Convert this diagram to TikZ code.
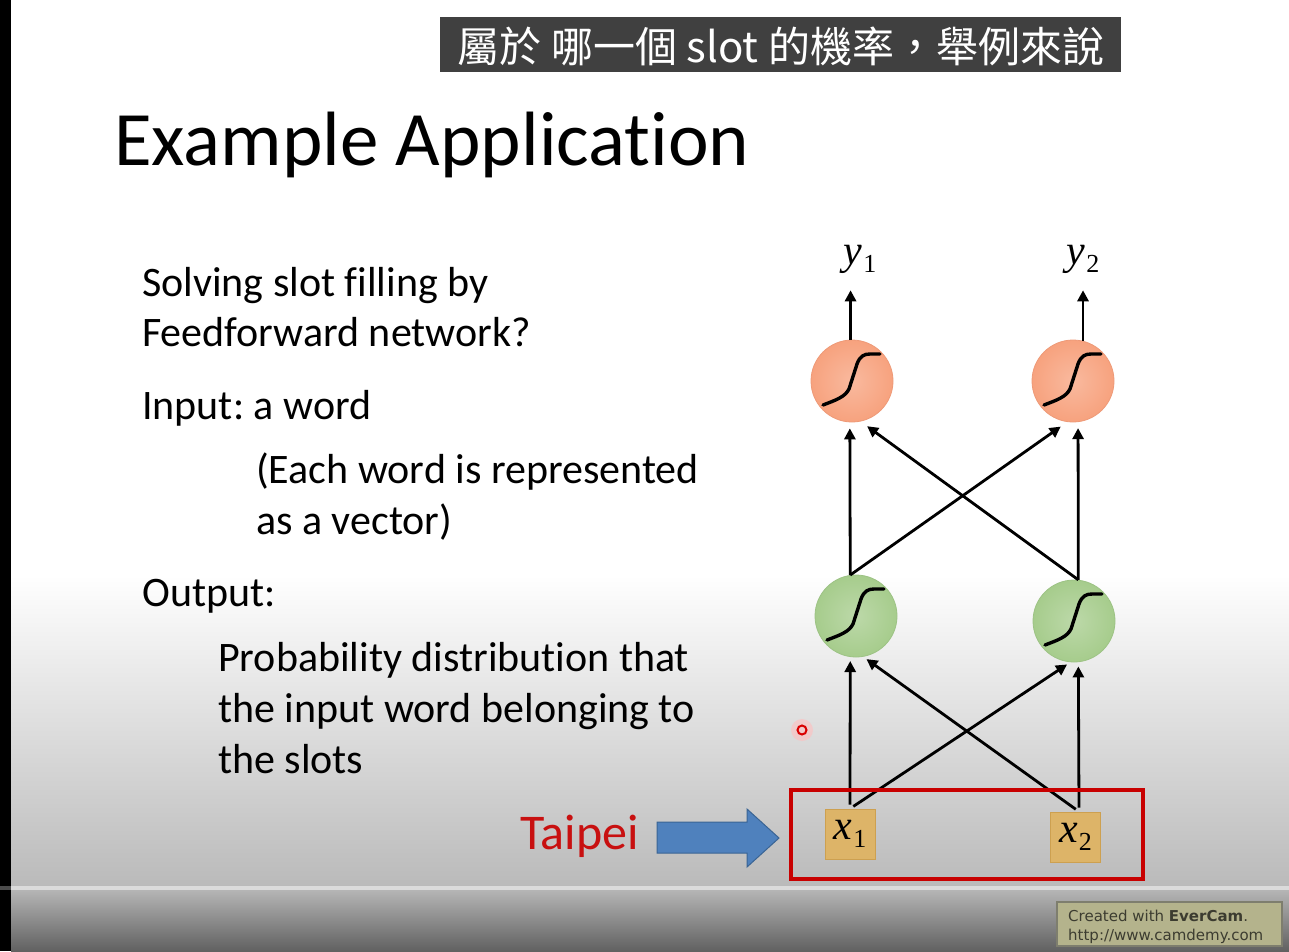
\documentclass[tikz,border=0pt]{standalone}
\usepackage{fontspec}
\setmainfont{Carlito}[Ligatures={NoCommon,NoRare}]
\newfontfamily\cjk{Noto Sans CJK TC}
\newfontfamily\tms{Liberation Serif}
\newfontfamily\dejav{DejaVu Sans}
\usetikzlibrary{arrows.meta,calc}
\definecolor{capbg}{HTML}{404040}
\definecolor{orangefill}{HTML}{F7A27E}
\definecolor{orangeedge}{HTML}{EE9A78}
\definecolor{greenfill}{HTML}{A6CC8C}
\definecolor{greenedge}{HTML}{9DC385}
\definecolor{tanfill}{HTML}{DDB468}
\definecolor{tanedge}{HTML}{CDA050}
\definecolor{slidered}{HTML}{C81010}
\definecolor{boxred}{HTML}{C80000}
\definecolor{arrowblue}{HTML}{4F81BD}
\definecolor{arrowblueedge}{HTML}{3A6494}
\definecolor{wmfill}{HTML}{B4B38C}
\definecolor{wmedge}{HTML}{7E7E6E}
\definecolor{wmtext}{HTML}{3C3C30}
\newcommand\vlab[2]{{\tms\itshape #1}\kern1pt\raisebox{-8pt}{\fontsize{26}{26}\selectfont\tms #2}}
\newcommand\sigcurve[1]{%
  \begin{scope}[shift={(#1.center)}]
    \draw[sig] (-29,24) .. controls (-16,19) and (-7,16) .. (-3,8)
      -- (5,-17) .. controls (8,-25) and (12,-27) .. (18,-27) -- (28,-27);
  \end{scope}}
\frenchspacing
\begin{document}
\begin{tikzpicture}[x=1pt,y=-1pt,
  txt/.style={anchor=base west, inner sep=0pt, font=\fontsize{42}{48}\selectfont},
  neuron/.style={circle, minimum size=82pt, inner sep=0pt, line width=0.8pt},
  outn/.style={neuron, draw=orangeedge, inner color=orangefill!75!white, outer color=orangefill},
  hidn/.style={neuron, draw=greenedge, inner color=greenfill!75!white, outer color=greenfill},
  inp/.style={draw=tanedge, fill=tanfill, line width=0.8pt, minimum width=50pt, minimum height=50pt, inner sep=0pt, font=\fontsize{42}{42}\selectfont},
  vl/.style={inner sep=0pt, anchor=base, font=\fontsize{42}{42}\selectfont},
  sig/.style={line width=3.4pt, line cap=round, line join=round},
  arr/.style={line width=2.8pt, -{Triangle[length=11pt,width=11pt]}},
]
\useasboundingbox (0,0) rectangle (1289,951);
% background
\fill[white] (0,0) rectangle (1289,951);
\shade[top color=white, bottom color=black!27] (11,575) rectangle (1289,886);
\fill[black!14] (0,886) rectangle (1289,890);
\shade[top color=black!29, bottom color=black!62] (11,890) rectangle (1289,951);
\fill[black] (0,0) rectangle (11,886);
\fill[black] (0,890) rectangle (11,951);
\fill[black!70] (0,886) rectangle (11,890);
% caption
\fill[capbg] (440,17) rectangle (1121,72);
\node[inner sep=0pt, text=white, font=\cjk\fontsize{42}{42}\selectfont] (cap) at (781,46) {屬於 哪一個 slot 的機率，舉例來說};
% title
\node[anchor=base west, inner sep=0pt, font=\fontsize{77}{90}\selectfont] (title) at (114,165) {Example Application};
% body text
\node[txt] (t1) at (142,296) {Solving slot filling by};
\node[txt] (t2) at (142,346) {Feedforward network?};
\node[txt] (t3) at (142,419) {Input: a word};
\node[txt] (t4) at (256,483) {(Each word is represented};
\node[txt] (t5) at (256,534) {as a vector)};
\node[txt] (t6) at (142,606) {Output:};
\node[txt] (t7) at (218,671) {Probability distribution that};
\node[txt] (t8) at (218,722) {the input word belonging to};
\node[txt] (t9) at (218,773) {the slots};
% network
\node[outn] (o1) at (852,381) {};
\node[outn] (o2) at (1073,381) {};
\node[hidn] (h1) at (856,616) {};
\node[hidn] (h2) at (1074,621) {};
\sigcurve{o1}
\sigcurve{o2}
\sigcurve{h1}
\sigcurve{h2}
\node[inp] (x1) at (850,834) {\vlab{x}{1}};
\node[inp] (x2) at (1075.5,837) {\vlab{x}{2}};
\node[vl] (y1) at (860,264) {\vlab{y}{1}};
\node[vl] (y2) at (1083,264) {\vlab{y}{2}};
% output arrows
\draw[arr, shorten >=17pt] (o1.92) -- (o1.92 |- y1.south);
\draw[arr, shorten >=17pt] (o2.76) -- (o2.76 |- y2.south);
% hidden -> output
\draw[arr, shorten >=6pt] (h1.98) -- (o1.267);
\draw[arr, shorten >=6pt] (h2.84) -- (o2.277);
\draw[arr, shorten >=8pt] (h1.98) -- (o2.262);
\draw[arr, shorten >=8pt] (h2.84) -- (o1.282);
% input -> hidden
\draw[arr, shorten <=4pt, shorten >=4pt] (x1.north) -- (h1.262);
\draw[arr, shorten <=4pt, shorten >=4pt] ([xshift=3.5pt]x2.north) -- (h2.84 |- h2.south);
\draw[arr, shorten <=4pt, shorten >=4pt] (x1.north) -- (h2.265);
\draw[arr, shorten <=4pt, shorten >=4pt] ([xshift=3.5pt]x2.north) -- (h1.280);
% input frame
\draw[boxred, line width=3.5pt] (791,790) rectangle (1143,879);
% Taipei and blue arrow
\node[anchor=base west, inner sep=0pt, text=slidered, font=\fontsize{50}{54}\selectfont] (taipei) at (520,849) {Taipei};
\filldraw[fill=arrowblue, draw=arrowblueedge, line width=1pt, line join=miter]
  (657,822) -- (747,822) -- (747,809) -- (779,838) -- (747,867) -- (747,853) -- (657,853) -- cycle;
% cursor marker
\fill[red!25, opacity=0.6] (802,730) circle (11);
\draw[red!85!black, line width=2pt] (802,730) circle (4.5);
% watermark
\filldraw[fill=wmfill, draw=wmedge, line width=1.2pt] (1057,902) rectangle (1282,946);
\node[anchor=base west, inner sep=0pt, text=wmtext, font=\dejav\fontsize{15}{15}\selectfont] (wm1) at (1068,921) {Created with \textbf{EverCam}.};
\node[anchor=base west, inner sep=0pt, text=wmtext, font=\dejav\fontsize{15}{15}\selectfont] (wm2) at (1068,940) {http://www.camdemy.com};
\end{tikzpicture}
\end{document}
